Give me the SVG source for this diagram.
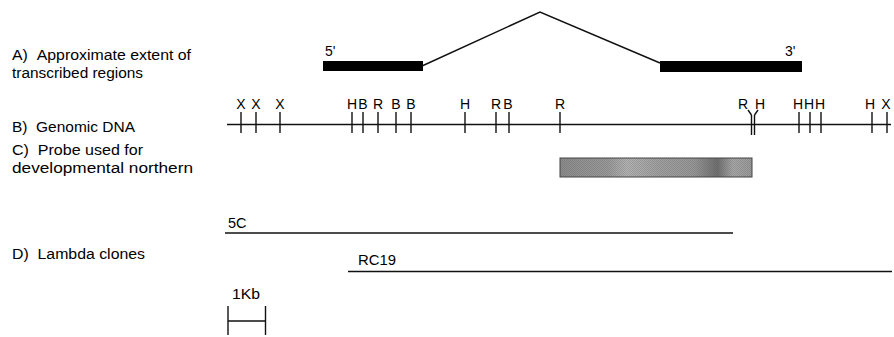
<svg xmlns="http://www.w3.org/2000/svg" width="894" height="337" viewBox="0 0 894 337">
<style>
text{font-family:"Liberation Sans",Arial,Helvetica,sans-serif;fill:#000;}
.lab{font-size:14px;}
.site{font-size:14px;text-anchor:middle;}
.ln{stroke:#111;stroke-width:1.5;fill:none;}
.tk{stroke:#111;stroke-width:1.4;}
</style>
<defs>
<linearGradient id="probeGrad" x1="0" y1="0" x2="1" y2="0">
<stop offset="0" stop-color="#8c8c8c"/>
<stop offset="0.25" stop-color="#9a9a9a"/>
<stop offset="0.35" stop-color="#b4b4b4"/>
<stop offset="0.5" stop-color="#a2a2a2"/>
<stop offset="0.7" stop-color="#979797"/>
<stop offset="0.82" stop-color="#6e6e6e"/>
<stop offset="0.9" stop-color="#a8a8a8"/>
<stop offset="1" stop-color="#9a9a9a"/>
</linearGradient>
<pattern id="stipple" width="2" height="2" patternUnits="userSpaceOnUse">
<rect x="0" y="0" width="1" height="1" fill="#555"/>
<rect x="1" y="1" width="1" height="1" fill="#555"/>
</pattern>
</defs>

<g id="labels">
<text class="lab" x="12" y="60" textLength="179" lengthAdjust="spacingAndGlyphs">A)&#160;&#160;Approximate extent of</text>
<text class="lab" x="12" y="77.5" textLength="131" lengthAdjust="spacingAndGlyphs">transcribed regions</text>
<text class="lab" x="12" y="132" textLength="123" lengthAdjust="spacingAndGlyphs">B)&#160;&#160;Genomic DNA</text>
<text class="lab" x="12" y="155" textLength="131" lengthAdjust="spacingAndGlyphs">C)&#160;&#160;Probe used for</text>
<text class="lab" x="12" y="172.5" textLength="181" lengthAdjust="spacingAndGlyphs">developmental northern</text>
<text class="lab" x="12" y="259" textLength="133" lengthAdjust="spacingAndGlyphs">D)&#160;&#160;Lambda clones</text>
</g>

<g id="exon-5">
<rect x="323" y="61" width="100" height="10" fill="#000"/>
<text class="lab" x="325" y="56">5'</text>
</g>
<g id="exon-3">
<rect x="660" y="61" width="142" height="11" fill="#000"/>
<text class="lab" x="785" y="56">3'</text>
</g>

<g id="connectors">
<polyline class="ln" points="422,66 540,12 660,63" stroke-width="1.3"/>
</g>

<g id="genomic-dna">
<line class="ln" x1="227" y1="124.5" x2="891" y2="124.5"/>
<g class="tk">
<line x1="241" y1="112" x2="241" y2="133"/>
<line x1="256" y1="112" x2="256" y2="133"/>
<line x1="280" y1="112" x2="280" y2="133"/>
<line x1="352" y1="112" x2="352" y2="133"/>
<line x1="363" y1="112" x2="363" y2="133"/>
<line x1="378" y1="112" x2="378" y2="133"/>
<line x1="396" y1="112" x2="396" y2="133"/>
<line x1="411" y1="112" x2="411" y2="133"/>
<line x1="465" y1="112" x2="465" y2="133"/>
<line x1="496" y1="112" x2="496" y2="133"/>
<line x1="509" y1="112" x2="509" y2="133"/>
<line x1="560" y1="112" x2="560" y2="133"/>
<line x1="751.5" y1="115" x2="751.5" y2="135"/>
<line x1="754.5" y1="115" x2="754.5" y2="135"/>
<line x1="799" y1="112" x2="799" y2="133"/>
<line x1="810" y1="112" x2="810" y2="133"/>
<line x1="821" y1="112" x2="821" y2="133"/>
<line x1="872" y1="112" x2="872" y2="133"/>
<line x1="887" y1="112" x2="887" y2="133"/>
<polyline points="748,110 751.5,115" fill="none"/>
<polyline points="758,110 754.5,115" fill="none"/>
</g>
<text class="site" x="241" y="109">X</text>
<text class="site" x="256" y="109">X</text>
<text class="site" x="280" y="109">X</text>
<text class="site" x="352" y="109">H</text>
<text class="site" x="363" y="109">B</text>
<text class="site" x="378" y="109">R</text>
<text class="site" x="396" y="109">B</text>
<text class="site" x="411" y="109">B</text>
<text class="site" x="465" y="109">H</text>
<text class="site" x="496" y="109">R</text>
<text class="site" x="508" y="109">B</text>
<text class="site" x="560" y="109">R</text>
<text class="site" x="743" y="109">R</text>
<text class="site" x="760" y="109">H</text>
<text class="site" x="798" y="109">H</text>
<text class="site" x="809" y="109">H</text>
<text class="site" x="820" y="109">H</text>
<text class="site" x="870" y="109">H</text>
<text class="site" x="886" y="109">X</text>
</g>

<g id="probe">
<rect x="560" y="158" width="192" height="19" fill="url(#probeGrad)"/>
<rect x="560" y="158" width="192" height="19" fill="url(#stipple)" opacity="0.25"/>
<rect x="560" y="158" width="192" height="19" fill="none" stroke="#444" stroke-width="1"/>
</g>

<g id="clone-5C">
<line class="ln" x1="225" y1="233" x2="733" y2="233"/>
<text class="lab" x="228" y="228" textLength="18.5" lengthAdjust="spacingAndGlyphs">5C</text>
</g>

<g id="clone-RC19">
<line class="ln" x1="348" y1="271.5" x2="892" y2="271.5"/>
<text class="lab" x="358" y="265" textLength="38" lengthAdjust="spacingAndGlyphs">RC19</text>
</g>

<g id="scale-bar">
<line class="tk" x1="228" y1="306" x2="228" y2="335"/>
<line class="tk" x1="265.5" y1="306" x2="265.5" y2="335"/>
<line class="ln" x1="228" y1="321" x2="265.5" y2="321"/>
<text class="lab" x="232" y="299" textLength="28" lengthAdjust="spacingAndGlyphs">1Kb</text>
</g>
</svg>
